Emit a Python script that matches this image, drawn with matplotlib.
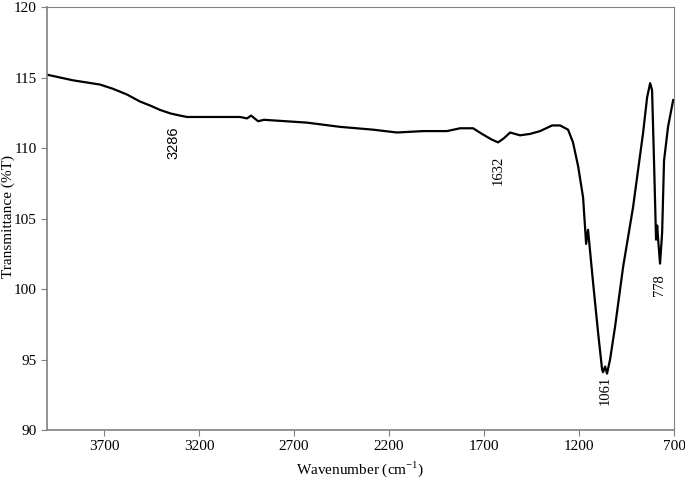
import matplotlib.pyplot as plt

# FTIR spectrum
wavenumber = [4000, 3863, 3721, 3653, 3580, 3511, 3455, 3405, 3350, 3300,
              3263, 2984, 2947, 2926, 2889, 2858, 2632, 2458, 2284, 2158,
              2021, 1895, 1826, 1758, 1711, 1660, 1626, 1595, 1563, 1511,
              1458, 1405, 1342, 1300, 1258, 1232, 1205, 1179, 1163, 1153,
              1126, 1100, 1079, 1074, 1063, 1053, 1037, 1011, 968, 916,
              863, 842, 826, 816, 805, 795, 789, 784, 774, 763,
              753, 732, 705]
transmittance = [115.2, 114.8, 114.5, 114.2, 113.8, 113.3, 113.0, 112.7, 112.45, 112.3,
                 112.2, 112.2, 112.1, 112.3, 111.9, 112.0, 111.8, 111.5, 111.3, 111.1,
                 111.2, 111.2, 111.4, 111.4, 111.0, 110.6, 110.4, 110.7, 111.1, 110.9,
                 111.0, 111.2, 111.6, 111.6, 111.3, 110.4, 108.7, 106.5, 103.2, 104.2,
                 100.4, 96.9, 94.3, 94.1, 94.5, 94.0, 95.0, 97.3, 101.6, 105.8,
                 111.1, 113.6, 114.6, 114.1, 108.7, 103.5, 104.5, 103.5, 101.8, 104.0,
                 109.1, 111.5, 113.4]

peak_labels = ["3286", "1632", "1061", "778"]
peak_x = [3337, 1626, 1063, 779]
peak_y = [110.4, 108.4, 92.8, 100.3]

xticks = [3700, 3200, 2700, 2200, 1700, 1200, 700]
yticks = [90, 95, 100, 105, 110, 115, 120]

plt.rcParams['font.family'] = ['Liberation Serif', 'DejaVu Serif']

fig = plt.figure(figsize=(6.85, 4.83), dpi=100)
ax = fig.add_axes([0.0686, 0.1097, 0.9155, 0.8758])

ax.plot(wavenumber, transmittance, color='black', linewidth=1.6)

for lab, x, y in zip(peak_labels, peak_x, peak_y):
    fam = ['Liberation Sans'] if lab == "3286" else ['Liberation Serif']
    ax.text(x, y, lab, rotation=90, ha='center', va='center', fontsize=10.5, family=fam)

ax.set_xlim(4000, 700)
ax.set_ylim(90, 120)
ax.set_xticks(xticks)
ax.set_yticks(yticks)
ax.tick_params(labelsize=11, length=4, color='#808080', direction='out')

for side in ['left', 'bottom', 'top', 'right']:
    ax.spines[side].set_color('#808080')
ax.spines['left'].set_linewidth(1.2)
ax.spines['bottom'].set_linewidth(1.2)
ax.spines['top'].set_linewidth(0.8)
ax.spines['right'].set_linewidth(0.8)

ax.set_xlabel('Wavenumber (cm$^{\\mathregular{-1}}$)', fontsize=11, labelpad=4)
# y label placed in figure coords so it stays inside the left edge
fig.text(8 / 685, 1 - 217 / 483, 'Transmittance (%T)', rotation=90,
         ha='center', va='center', fontsize=11)

fig.savefig('out.png', dpi=100)
